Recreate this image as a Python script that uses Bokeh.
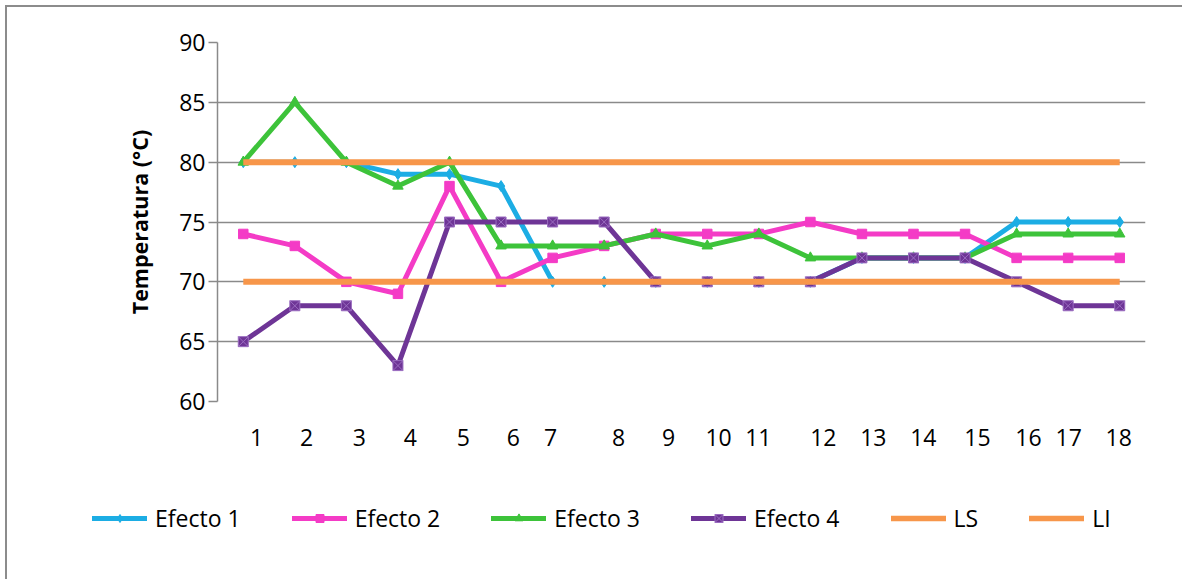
from bokeh.plotting import figure
from bokeh.layouts import column, row
from bokeh.models import FixedTicker, Legend, LegendItem, Range1d
from bokeh.embed import file_html
from bokeh.resources import INLINE

# Sample number (1..18) and temperatures in °C for each effect
days = list(range(1, 19))
efecto1 = [80, 80, 80, 79, 79, 78, 70, 70, 70, 70, 70, 70, 72, 72, 72, 75, 75, 75]
efecto2 = [74, 73, 70, 69, 78, 70, 72, 73, 74, 74, 74, 75, 74, 74, 74, 72, 72, 72]
efecto3 = [80, 85, 80, 78, 80, 73, 73, 73, 74, 73, 74, 72, 72, 72, 72, 74, 74, 74]
efecto4 = [65, 68, 68, 63, 75, 75, 75, 75, 70, 70, 70, 70, 72, 72, 72, 70, 68, 68]
ls_limit = [80] * 18   # upper limit
li_limit = [70] * 18   # lower limit
y_ticks = [60, 65, 70, 75, 80, 85, 90]

# the category labels sit slightly off their points
label_shift = [0.26, 0.23, 0.25, 0.24, 0.27, 0.24, -0.04, 0.28, 0.25, 0.22,
               -0.01, 0.25, 0.22, 0.19, 0.24, 0.23, 0.01, -0.02]

FONT = "Open Sans"
GRID = "#8a8a8a"
ORANGE = "#F7964A"

# main chart (canvas begins 7 px in from the page corner: margin + border)
p = figure(width=1175, height=453, output_backend="svg", toolbar_location=None,
           x_range=Range1d(0.5, 18.5), y_range=Range1d(60, 90),
           min_border_left=210, min_border_right=37,
           min_border_top=35, min_border_bottom=59)
p.outline_line_color = None
p.background_fill_color = "white"
p.border_fill_color = "white"

# y axis
p.yaxis.ticker = FixedTicker(ticks=y_ticks)
p.yaxis.axis_line_color = GRID
p.yaxis.axis_line_width = 1.5
p.yaxis.major_tick_line_color = GRID
p.yaxis.major_tick_line_width = 1.5
p.yaxis.major_tick_in = 0
p.yaxis.major_tick_out = 9
p.yaxis.minor_tick_line_color = None
p.yaxis.major_label_standoff = 3
p.yaxis.major_label_text_font = FONT
p.yaxis.major_label_text_font_size = "23px"
p.yaxis.major_label_text_color = "black"
p.yaxis.axis_label = "Temperatura (°C)"
p.yaxis.axis_label_text_font = FONT
p.yaxis.axis_label_text_font_style = "bold"
p.yaxis.axis_label_text_font_size = "21.5px"
p.yaxis.axis_label_text_color = "black"
p.yaxis.axis_label_standoff = 22

# x axis: labels only
x_ticks = [round(d + s, 3) for d, s in zip(days, label_shift)]
p.xaxis.ticker = FixedTicker(ticks=x_ticks)
p.xaxis.major_label_overrides = {t: str(d) for t, d in zip(x_ticks, days)}
p.xaxis.axis_line_color = None
p.xaxis.major_tick_line_color = None
p.xaxis.minor_tick_line_color = None
p.xaxis.major_label_standoff = 21
p.xaxis.major_label_text_font = FONT
p.xaxis.major_label_text_font_size = "23px"
p.xaxis.major_label_text_color = "black"

p.xgrid.visible = False
p.ygrid.ticker = FixedTicker(ticks=y_ticks)
p.ygrid.grid_line_color = GRID
p.ygrid.grid_line_width = 1.3

series = [
    ("Efecto 1", efecto1, "#1CADE4", "diamond", 11, None),
    ("Efecto 2", efecto2, "#F43BC6", "square", 9.5, None),
    ("Efecto 3", efecto3, "#3DC33A", "triangle", 10.5, None),
    ("Efecto 4", efecto4, "#6E3596", "square_x", 10, "#9A6CC0"),
]

for name, vals, color, marker, size, mline in series:
    p.line(days, vals, line_color=color, line_width=5,
           line_join="round", line_cap="round")
    p.scatter(days, vals, marker=marker, size=size, fill_color=color,
              line_color=mline or color, line_width=1)

for vals in (ls_limit, li_limit):
    p.line(days, vals, line_color=ORANGE, line_width=6, line_cap="butt")

# legend strip under the chart; its swatch renderers hold no visible points
NAN = float("nan")
leg = figure(width=1175, height=119, output_backend="svg", toolbar_location=None,
             x_range=Range1d(0, 1), y_range=Range1d(0, 1),
             x_axis_type=None, y_axis_type=None, min_border=0)
leg.outline_line_color = None
leg.grid.visible = False

items = []
for name, vals, color, marker, size, mline in series:
    ln = leg.line([0.5], [NAN], line_color=color, line_width=5, line_cap="round")
    sc = leg.scatter([0.5], [NAN], marker=marker, size=size, fill_color=color,
                     line_color=mline or color, line_width=1)
    items.append(LegendItem(label=name, renderers=[ln, sc]))
for name in ("LS", "LI"):
    ln = leg.line([0.5], [NAN], line_color=ORANGE, line_width=5.5, line_cap="round")
    items.append(LegendItem(label=name, renderers=[ln]))

legend = Legend(items=items, location=(85, 45), orientation="horizontal",
                glyph_width=55, glyph_height=20, label_height=20,
                label_standoff=8, spacing=51, padding=0, margin=0,
                border_line_color=None, background_fill_alpha=0,
                label_text_font=FONT, label_text_font_size="23px",
                label_text_color="black")
leg.add_layout(legend, "center")

page = column(p, row(leg), spacing=0,
              styles={"margin-left": "5px", "margin-top": "5px",
                      "border-left": "2px solid #8c8c8c",
                      "border-top": "2px solid #8c8c8c"})

open("out.html", "w").write(file_html(page, INLINE))
